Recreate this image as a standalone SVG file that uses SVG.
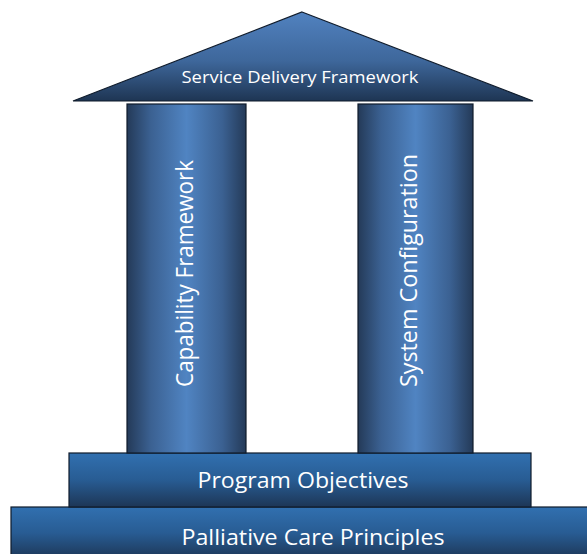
<svg xmlns="http://www.w3.org/2000/svg" width="587" height="554" viewBox="0 0 587 554">
  <defs>
    <linearGradient id="roofGrad" x1="0" y1="0" x2="0" y2="1">
      <stop offset="0" stop-color="#5182c0"/>
      <stop offset="0.55" stop-color="#3e679b"/>
      <stop offset="1" stop-color="#1e3553"/>
    </linearGradient>
    <linearGradient id="pillarGrad" x1="0" y1="0" x2="1" y2="0">
      <stop offset="0" stop-color="#243a58"/>
      <stop offset="0.2" stop-color="#3b6192"/>
      <stop offset="0.5" stop-color="#5084c2"/>
      <stop offset="0.8" stop-color="#3b6192"/>
      <stop offset="1" stop-color="#243a58"/>
    </linearGradient>
    <linearGradient id="baseGrad" x1="0" y1="0" x2="0" y2="1">
      <stop offset="0" stop-color="#3170b0"/>
      <stop offset="0.5" stop-color="#285c93"/>
      <stop offset="1" stop-color="#1d3656"/>
    </linearGradient>
  </defs>
  <style>
    .shape { stroke: #0f1b2b; stroke-width: 1.2; }
    .label { font-family: "Open Sans", "Liberation Sans", sans-serif; fill: #ffffff; text-anchor: middle; }
  </style>

  <!-- foundation slabs -->
  <g id="palliative-care-principles">
    <rect class="shape" x="11" y="507" width="582" height="52" fill="url(#baseGrad)"/>
    <text class="label" x="313" y="545" font-size="22" textLength="263" lengthAdjust="spacingAndGlyphs">Palliative Care Principles</text>
  </g>
  <g id="program-objectives">
    <rect class="shape" x="69" y="453" width="462" height="54" fill="url(#baseGrad)"/>
    <text class="label" x="303" y="488" font-size="21" textLength="211" lengthAdjust="spacingAndGlyphs">Program Objectives</text>
  </g>

  <!-- pillars -->
  <g id="capability-framework">
    <rect class="shape" x="127" y="104" width="119" height="349" fill="url(#pillarGrad)"/>
    <text class="label" transform="translate(193 273.5) rotate(-90)" font-size="24" textLength="227" lengthAdjust="spacingAndGlyphs">Capability Framework</text>
  </g>
  <g id="system-configuration">
    <rect class="shape" x="358" y="104" width="115" height="349" fill="url(#pillarGrad)"/>
    <text class="label" transform="translate(417 270.5) rotate(-90)" font-size="24" textLength="233" lengthAdjust="spacingAndGlyphs">System Configuration</text>
  </g>

  <!-- roof -->
  <g id="service-delivery-framework">
    <polygon class="shape" points="302,12 533,101 73,101" fill="url(#roofGrad)"/>
    <text class="label" x="300" y="83" font-size="17" textLength="237" lengthAdjust="spacingAndGlyphs">Service Delivery Framework</text>
  </g>

  <g id="connectors"/>
</svg>
